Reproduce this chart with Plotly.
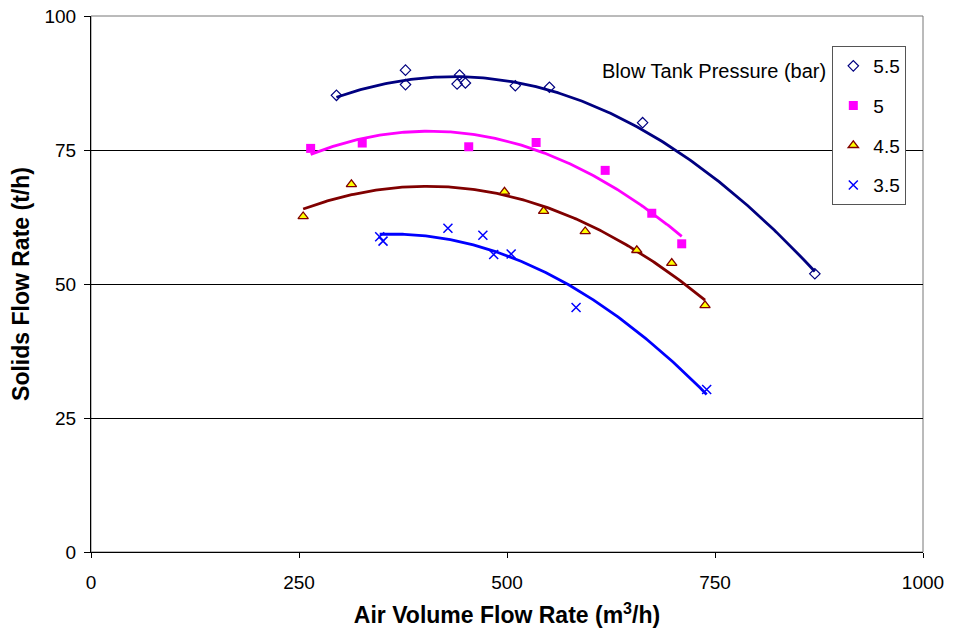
import numpy as np
import plotly.graph_objects as go

# Data
x_55 = [295, 378, 378, 440, 443, 450, 510, 551, 663, 870]
y_55 = [85.2, 89.9, 87.2, 87.3, 89.0, 87.5, 87.0, 86.7, 80.1, 51.9]

x_50 = [264, 326, 454, 535, 618, 674, 710]
y_50 = [75.3, 76.3, 75.6, 76.4, 71.2, 63.2, 57.5]

x_45 = [255, 313, 497, 544, 594, 656, 698, 738]
y_45 = [62.6, 68.6, 67.2, 63.6, 59.8, 56.3, 53.9, 46.0]

x_35 = [347, 351, 429, 471, 484, 505, 583, 740]
y_35 = [58.8, 58.0, 60.4, 59.1, 55.5, 55.6, 45.6, 30.3]

series_names = ["5.5", "5", "4.5", "3.5"]
x_ticks = [0, 250, 500, 750, 1000]
y_ticks = [0, 25, 50, 75, 100]

FONT = "Liberation Sans, Arial, sans-serif"

styles = {
    "5.5": dict(line="#000080", marker=dict(symbol="diamond-open", size=8, color="#000080", line=dict(color="#000080", width=1.2))),
    "5": dict(line="#FF00FF", marker=dict(symbol="square", size=9, color="#FF00FF", line=dict(color="#FF00FF", width=0))),
    "4.5": dict(line="#800000", marker=dict(symbol="triangle-up", size=9, color="#FFFF00", line=dict(color="#800000", width=1.3))),
    "3.5": dict(line="#0000FF", marker=dict(symbol="x-thin-open", size=9, color="#0000FF", line=dict(color="#0000FF", width=1.5))),
}

data = {"5.5": (x_55, y_55), "5": (x_50, y_50), "4.5": (x_45, y_45), "3.5": (x_35, y_35)}

fig = go.Figure()

# Trend lines (2nd-order polynomial fits of each series)
for name in series_names:
    xs, ys = data[name]
    coeffs = np.polyfit(xs, ys, 2)
    xf = np.linspace(min(xs), max(xs), 200)
    yf = np.polyval(coeffs, xf)
    fig.add_trace(go.Scatter(x=xf, y=yf, mode="lines", showlegend=False,
                             line=dict(color=styles[name]["line"], width=2.8),
                             hoverinfo="skip"))

for name in series_names:
    xs, ys = data[name]
    fig.add_trace(go.Scatter(x=xs, y=ys, mode="markers", name=name,
                             legendgroup=name, marker=styles[name]["marker"]))

fig.update_layout(
    width=954, height=634,
    margin=dict(l=91, r=31, t=16, b=82),
    paper_bgcolor="white", plot_bgcolor="white",
    font=dict(family=FONT, size=19, color="black"),
    showlegend=True,
    legend=dict(x=0.891, y=0.944, xanchor="left", yanchor="top",
                bordercolor="#555555", borderwidth=1, bgcolor="white",
                font=dict(size=19, family=FONT), tracegroupgap=12,
                itemwidth=30),
    xaxis=dict(range=[0, 1000], tickvals=x_ticks, ticks="outside", ticklen=5,
               tickcolor="black", showline=True, linecolor="black", linewidth=1,
               showgrid=False, zeroline=False, ticklabelstandoff=8,
               automargin=False,
               tickfont=dict(size=19),
               title=dict(text="<b>Air Volume Flow Rate (m<sup>3</sup>/h)</b>",
                          font=dict(size=23), standoff=15)),
    yaxis=dict(range=[0, 100], tickvals=y_ticks, ticks="outside", ticklen=6,
               tickcolor="black", showline=True, linecolor="black", linewidth=1,
               showgrid=True, gridcolor="black", gridwidth=1, zeroline=False,
               ticklabelstandoff=4, automargin=False,
               tickfont=dict(size=19),
               title=dict(text="<b>Solids Flow Rate (t/h)</b>",
                          font=dict(size=23), standoff=8)),
)

# plot-area border (gray) on right/top
fig.add_shape(type="rect", xref="x domain", yref="y domain", x0=0, y0=0, x1=1, y1=1,
              line=dict(color="#777777", width=1), layer="below")

fig.add_annotation(text="Blow Tank Pressure (bar)", xref="paper", yref="paper",
                   x=0.886, y=0.897, xanchor="right", yanchor="middle",
                   showarrow=False, font=dict(size=20, family=FONT))

fig.write_html("out.html")
